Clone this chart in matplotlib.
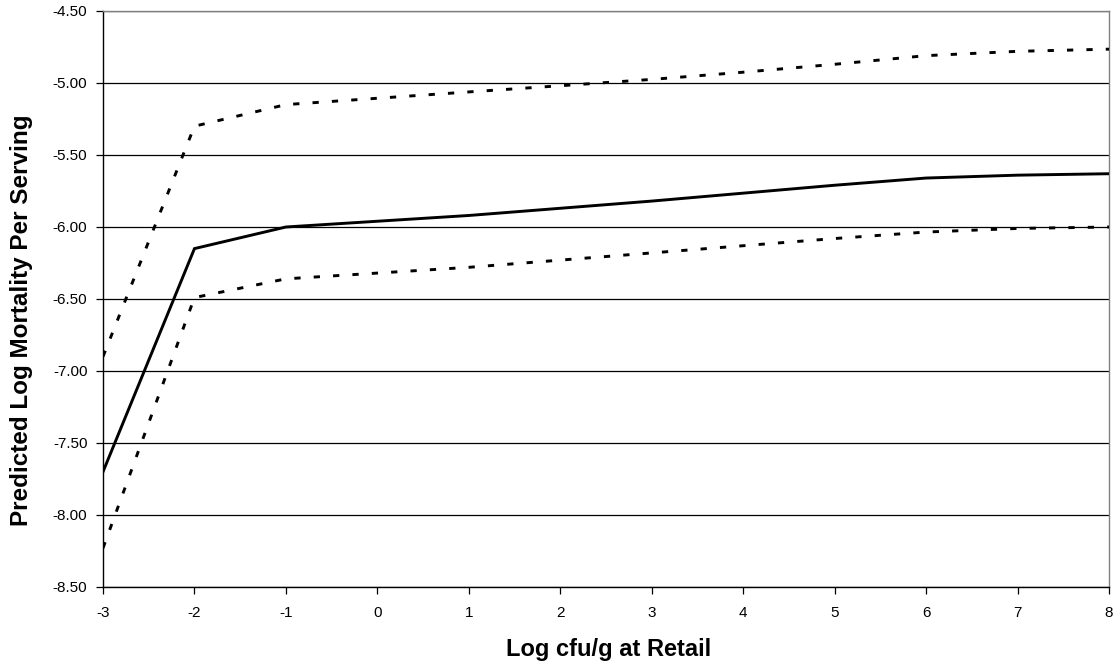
import matplotlib
matplotlib.use("Agg")
import matplotlib.pyplot as plt

x_vals = [-3, -2, -1, 0, 1, 2, 3, 4, 5, 6, 7, 8]
mean_vals = [-7.70, -6.15, -6.00, -5.96, -5.92, -5.87, -5.82, -5.765, -5.71, -5.66, -5.64, -5.63]
upper_vals = [-6.90, -5.30, -5.15, -5.106, -5.062, -5.019, -4.975, -4.925, -4.87, -4.81, -4.78, -4.765]
lower_vals = [-8.23, -6.49, -6.36, -6.32, -6.28, -6.23, -6.18, -6.13, -6.08, -6.035, -6.01, -6.00]
x_ticks = list(range(-3, 9))
y_ticks = [-8.5, -8.0, -7.5, -7.0, -6.5, -6.0, -5.5, -5.0, -4.5]

plt.rcParams['font.family'] = ['Liberation Sans', 'DejaVu Sans']

fig = plt.figure(figsize=(11.13, 6.61), dpi=100)
ax = fig.add_axes([103/1113, 1 - 587/661, (1109 - 103)/1113, (587 - 11)/661])

for yv in y_ticks:
    ax.axhline(yv, color='black', lw=0.9, zorder=1)

dash = (0, (2.15, 4.5))
ax.plot(x_vals, mean_vals, color='black', lw=2.1, solid_joinstyle='miter', zorder=3)
ax.plot(x_vals, upper_vals, color='black', lw=2.1, linestyle=dash, zorder=3)
ax.plot(x_vals, lower_vals, color='black', lw=2.1, linestyle=dash, zorder=3)

ax.set_xlim(-3, 8)
ax.set_ylim(-8.5, -4.5)
ax.set_xticks(x_ticks)
ax.set_xticklabels([str(t) for t in x_ticks])
ax.set_yticks(y_ticks)
ax.set_yticklabels([f"{t:.2f}" for t in y_ticks])
ax.tick_params(axis='both', direction='out', length=5, width=0.9, labelsize=11, colors='black')
ax.tick_params(axis='x', pad=9)
ax.tick_params(axis='y', pad=6.2)

for side in ['left', 'bottom']:
    ax.spines[side].set_color('black')
    ax.spines[side].set_linewidth(1.0)
for side in ['right', 'top']:
    ax.spines[side].set_color('#808080')
    ax.spines[side].set_linewidth(1.0)

ax.set_xlabel('Log cfu/g at Retail', fontsize=17, fontweight='bold')
ax.set_ylabel('Predicted Log Mortality Per Serving', fontsize=17.5, fontweight='bold')
ax.xaxis.set_label_coords(0.503, -0.089)
ax.yaxis.set_label_coords(-0.0696, 0.4635)

fig.savefig('out.png', dpi=100)
